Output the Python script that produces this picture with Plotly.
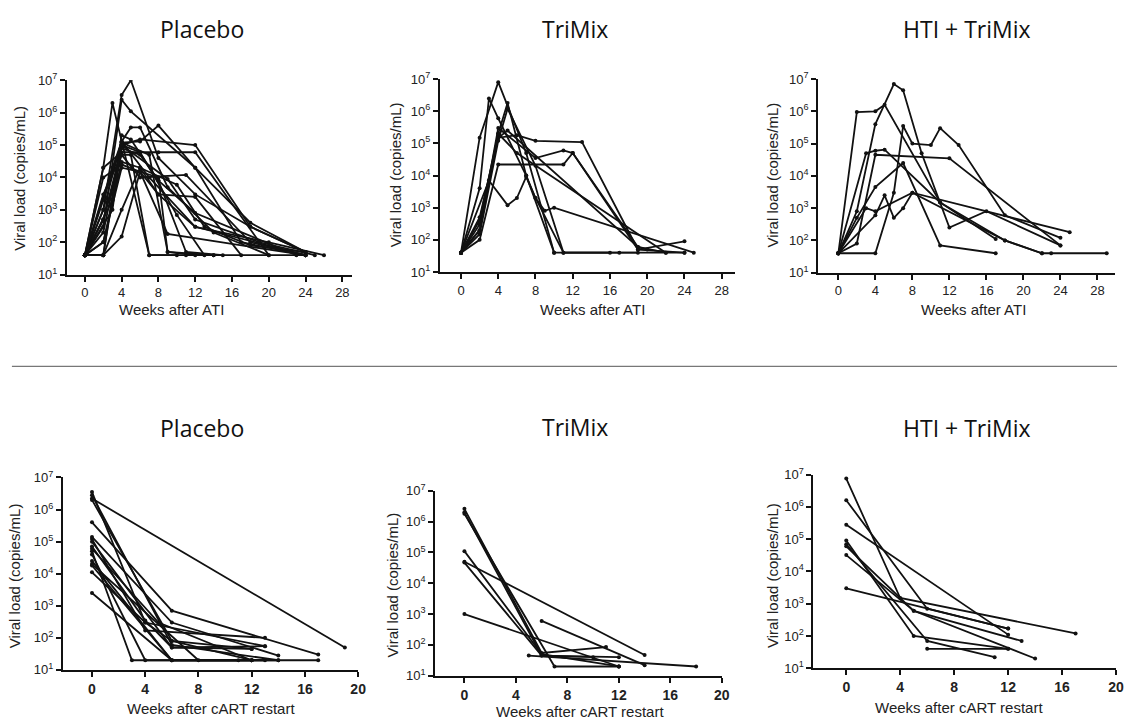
import plotly.graph_objects as go

W, H = 1129, 728

# ---------------- DATA ----------------
# Top row: weeks after ATI
placebo_ati_weeks = [
    [0, 2, 4, 5, 8, 12, 18, 24],
    [0, 2, 3, 7, 11, 24],
    [0, 2, 4, 5, 12, 18, 24],
    [0, 2, 4, 6, 8, 12, 17, 24],
    [0, 2, 4, 6, 12, 18, 24],
    [0, 3, 4, 5, 6, 9, 14, 20],
    [0, 2, 4, 8, 12, 20],
    [0, 2, 4, 6, 9, 24],
    [0, 2, 4, 6, 8, 9, 12, 14],
    [0, 2, 4, 7, 12, 24],
    [0, 2, 4, 6, 11, 18, 24],
    [0, 3, 4, 6, 10, 13],
    [0, 2, 4, 5, 8, 11, 15],
    [0, 2, 4, 7, 9, 14],
    [0, 2, 4, 6, 8, 12, 17],
    [0, 2, 4, 5, 7, 10],
    [0, 2, 4, 6, 8, 12, 20, 26],
    [0, 2, 4, 6, 8, 12, 23],
    [0, 2, 4, 6, 10, 13, 18, 24],
    [0, 3, 4, 9, 12, 19, 25],
]
placebo_ati_vl = [
    [40, 1000, 3.5e6, 1e7, 4e4, 3000, 300, 50],
    [40, 2e4, 2e6, 40, 40, 40],
    [40, 300, 2.5e6, 1.1e6, 2e4, 400, 50],
    [40, 40, 1.2e5, 1.3e5, 4e5, 2e4, 100, 40],
    [40, 200, 1e5, 1.5e5, 1e5, 300, 50],
    [40, 2e4, 1.3e5, 3.5e5, 3.5e5, 5000, 200, 40],
    [40, 2e4, 6e4, 6e4, 6e4, 40],
    [40, 100, 2e4, 1.5e4, 180, 40],
    [40, 40, 150, 1.5e4, 1e4, 50, 40, 40],
    [40, 1000, 1.3e5, 1e4, 300, 40],
    [40, 500, 5e4, 1e4, 1.2e4, 100, 40],
    [40, 1000, 1e5, 6e4, 700, 40],
    [40, 40, 2e5, 1.5e5, 8000, 50, 40],
    [40, 2000, 1.2e5, 5e4, 50, 40],
    [40, 1e4, 2.5e4, 1.5e4, 3000, 2500, 40],
    [40, 3000, 5e4, 5e4, 40, 40],
    [40, 40, 1000, 2e4, 3000, 300, 100, 40],
    [40, 500, 8e4, 5e4, 8000, 800, 40],
    [40, 100, 3e4, 2e4, 6000, 300, 80, 50],
    [40, 2000, 1e5, 9000, 500, 100, 40],
]

trimix_ati_weeks = [
    [0, 2, 4, 7, 10, 17, 24],
    [0, 2, 3, 4, 7, 8, 11, 16],
    [0, 2, 4, 5, 7, 10],
    [0, 2, 4, 5, 8, 11, 19],
    [0, 2, 4, 6, 8, 13, 19, 24],
    [0, 2, 4, 8, 11, 12, 19, 20],
    [0, 2, 4, 11, 12, 19, 24],
    [0, 3, 5, 6, 7, 8, 9, 10, 25],
    [0, 2, 4, 5, 19, 22],
    [0, 2, 4, 6, 22],
]
trimix_ati_vl = [
    [40, 1.5e5, 8e6, 5e4, 40, 40, 40],
    [40, 4000, 2.5e6, 6e5, 1e4, 2000, 40, 40],
    [40, 200, 2e5, 1.8e6, 1e4, 40],
    [40, 150, 1.2e5, 1.2e6, 2e4, 40, 40],
    [40, 300, 1.5e5, 1.8e5, 1.2e5, 1.1e5, 50, 40],
    [40, 200, 3e5, 3.5e4, 6e4, 5e4, 60, 50],
    [40, 100, 2.2e4, 2.2e4, 5e4, 50, 90],
    [40, 7000, 1200, 2000, 9000, 2000, 800, 1000, 40],
    [40, 500, 1.5e5, 2.5e5, 60, 40],
    [40, 400, 2e5, 5e4, 40],
]

hti_ati_weeks = [
    [0, 2, 4, 5, 11, 17],
    [0, 2, 4, 6, 7, 9, 12, 16, 24],
    [0, 3, 4, 5, 11, 18, 22],
    [0, 2, 4, 12, 24],
    [0, 4, 6, 7, 8, 10, 11, 13, 18, 24],
    [0, 4, 5, 6, 7, 8, 25],
    [0, 2, 4, 7, 11, 17],
    [0, 3, 4, 8, 18, 22, 23, 29],
]
hti_ati_vl = [
    [40, 9.5e5, 1e6, 1.6e6, 1500, 110],
    [40, 800, 4e5, 7e6, 4.5e6, 5e4, 250, 800, 70],
    [40, 5e4, 6e4, 6.5e4, 1500, 100, 40],
    [40, 80, 4.5e4, 3.5e4, 70],
    [40, 40, 3000, 3.5e5, 1e5, 9e4, 3e5, 9e4, 600, 120],
    [40, 600, 2500, 500, 1000, 3000, 180],
    [40, 500, 4500, 2.5e4, 70, 40],
    [40, 1000, 800, 3000, 100, 40, 40, 40],
]

# Bottom row: weeks after cART restart
placebo_cart_weeks = [
    [0, 19], [0, 4, 13], [0, 6, 14], [0, 6, 12], [0, 6, 17], [0, 6, 14],
    [0, 4, 13], [0, 6, 12], [0, 3, 11], [0, 4, 13], [0, 6, 12], [0, 8, 17],
    [0, 6, 14], [0, 4, 6, 12], [0, 6, 12], [0, 5, 12], [0, 4, 6, 13],
]
placebo_cart_vl = [
    [2.2e6, 50], [3.5e6, 300, 55], [2.8e6, 60, 20], [2e6, 80, 45], [4e5, 700, 30],
    [1.4e5, 300, 28], [1.2e5, 170, 100], [1e5, 50, 45], [5e4, 20, 20], [4e4, 20, 20],
    [2.5e4, 20, 20], [2e4, 20, 20], [1.8e4, 20, 20], [1.1e4, 300, 80, 20],
    [2500, 20, 20], [6e4, 300, 20], [7e4, 350, 50, 55],
]

trimix_cart_weeks = [
    [0, 6, 11], [0, 6, 12], [0, 7, 12], [0, 6, 12], [0, 14],
    [0, 6, 10], [0, 12], [6, 14], [5, 18],
]
trimix_cart_vl = [
    [2.6e6, 55, 85], [2e6, 45, 40], [1.8e6, 20, 20], [1.1e5, 50, 20], [5e4, 47],
    [4.7e4, 45, 40], [1000, 20], [600, 22], [45, 20],
]

hti_cart_weeks = [
    [0, 4, 17], [0, 6, 12], [0, 12], [0, 5, 12], [0, 6, 11],
    [0, 5, 13], [0, 5, 14], [0, 12], [6, 12],
]
hti_cart_vl = [
    [7.5e6, 1500, 120], [1.6e6, 700, 170], [2.8e5, 110], [9e4, 100, 40], [7e4, 70, 22],
    [6e4, 600, 70], [3.2e4, 600, 20], [3000, 170], [40, 40],
]

panel_titles = ["Placebo", "TriMix", "HTI + TriMix", "Placebo", "TriMix", "HTI + TriMix"]
x_titles = ["Weeks after ATI"] * 3 + ["Weeks after cART restart"] * 3
y_title = "Viral load (copies/mL)"
top_xticks = [0, 4, 8, 12, 16, 20, 24, 28]
bottom_xticks = [0, 4, 8, 12, 16, 20]
y_tickvals = [1e1, 1e2, 1e3, 1e4, 1e5, 1e6, 1e7]
y_ticktext = ["10<sup>%d</sup>" % k for k in range(1, 8)]

# ---------------- LAYOUT GEOMETRY (pixels) ----------------
# (x_left, x_right, y_top, y_bottom, xmin, xmax)
panels = [
    (67.5, 355.0, 73.0, 272.0, -1.94, 29.1),
    (443.0, 740.0, 71.7, 269.3, -2.27, 29.4),
    (824.0, 1123.0, 71.7, 270.0, -2.18, 29.9),
    (63.3, 360.7, 479.7, 676.7, -2.19, 20.0),
    (438.3, 727.0, 493.3, 682.7, -2.27, 20.0),
    (819.3, 1124.0, 476.7, 675.0, -2.43, 20.0),
]
title_pos = [(203, 20), (579, 20), (974, 20), (203, 429), (579, 428), (974, 429)]
xtitle_pos = [(173, 308), (597, 308), (980, 308), (213, 716), (584, 719), (966, 715)]
ytitle_pos = [(20, 173), (398, 170), (778, 170), (15, 580), (395, 590), (778, 580)]

data_sets = [
    (placebo_ati_weeks, placebo_ati_vl),
    (trimix_ati_weeks, trimix_ati_vl),
    (hti_ati_weeks, hti_ati_vl),
    (placebo_cart_weeks, placebo_cart_vl),
    (trimix_cart_weeks, trimix_cart_vl),
    (hti_cart_weeks, hti_cart_vl),
]

fig = go.Figure()
annotations = []
layout = dict(
    width=W, height=H,
    margin=dict(l=0, r=0, t=0, b=0),
    paper_bgcolor="white", plot_bgcolor="white",
    showlegend=False,
    font=dict(family="Liberation Sans, Arial, sans-serif", color="#111"),
)

for i, (weeks_list, vl_list) in enumerate(data_sets):
    n = i + 1
    xa = "x" if n == 1 else "x%d" % n
    ya = "y" if n == 1 else "y%d" % n
    for wk, vl in zip(weeks_list, vl_list):
        fig.add_trace(go.Scatter(
            x=wk, y=vl, xaxis=xa, yaxis=ya, mode="lines+markers",
            line=dict(color="#111", width=1.8),
            marker=dict(color="#111", size=4),
            hoverinfo="skip",
        ))
    xl, xr, yt, yb, xmin, xmax = panels[i]
    bottom = i >= 3
    layout["xaxis" if n == 1 else "xaxis%d" % n] = dict(
        domain=[xl / W, xr / W], anchor=ya, range=[xmin, xmax],
        tickvals=bottom_xticks if bottom else top_xticks,
        ticks="outside", ticklen=5, tickwidth=1.5, tickcolor="#111",
        showline=True, linecolor="#111", linewidth=2,
        showgrid=False, zeroline=False,
        tickfont=dict(size=14 if bottom else 13, color="#222",
                      family="Liberation Sans, Arial, sans-serif",
                      weight="bold" if bottom else "normal"),
    )
    layout["yaxis" if n == 1 else "yaxis%d" % n] = dict(
        domain=[1 - yb / H, 1 - yt / H], anchor=xa, type="log", range=[1, 7],
        tickvals=y_tickvals, ticktext=y_ticktext,
        ticks="outside", ticklen=5, tickwidth=1.5, tickcolor="#111",
        showline=True, linecolor="#111", linewidth=2,
        showgrid=False, zeroline=False,
        tickfont=dict(size=13, color="#222"),
    )
    tx, ty = title_pos[i]
    annotations.append(dict(text=panel_titles[i], x=tx / W, y=1 - ty / H,
                            xref="paper", yref="paper", showarrow=False,
                            xanchor="center", yanchor="middle",
                            font=dict(family="Open Sans, Noto Sans, sans-serif",
                                      size=23, color="#111", weight="normal")))
    ax, ay = xtitle_pos[i]
    annotations.append(dict(text=x_titles[i], x=ax / W, y=1 - ay / H,
                            xref="paper", yref="paper", showarrow=False,
                            xanchor="center", yanchor="middle",
                            font=dict(size=15, color="#222")))
    yx, yy = ytitle_pos[i]
    annotations.append(dict(text=y_title, x=yx / W, y=1 - yy / H,
                            xref="paper", yref="paper", showarrow=False,
                            textangle=-90, xanchor="center", yanchor="middle",
                            font=dict(size=15, color="#222")))

layout["annotations"] = annotations
layout["shapes"] = [dict(type="line", xref="paper", yref="paper",
                         x0=12 / W, x1=1125 / W, y0=1 - 366 / H, y1=1 - 366 / H,
                         line=dict(color="#777", width=1.2))]

fig.update_layout(**layout)
fig.write_html("out.html")
